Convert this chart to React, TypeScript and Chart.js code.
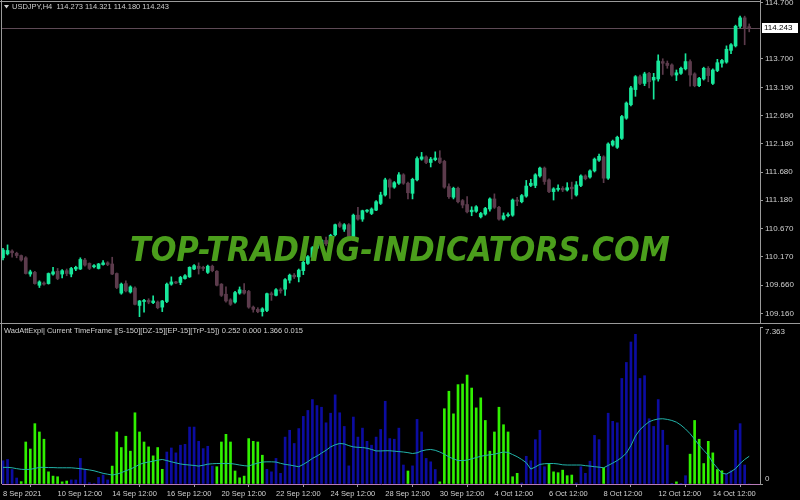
import React, { useEffect, useRef } from 'react';
import { Chart, registerables } from 'chart.js';

Chart.register(...registerables);

const SYMBOL = 'USDJPY,H4';
const HEADER_OHLC = ['114.273', '114.321', '114.180', '114.243'];
const INDICATOR_TITLE = 'WadAttExpl| Current TimeFrame |[S-150][DZ-15][EP-15][TrP-15])';
const INDICATOR_VALUES = ['0.252', '0.000', '1.366', '0.015'];
const WATERMARK = 'TOP-TRADING-INDICATORS.COM';
const LAST_PRICE = 114.243;

const priceTicks = [114.7, 113.7, 113.19, 112.69, 112.18, 111.68, 111.18, 110.67, 110.17, 109.66, 109.16];
const timeLabels = ['8 Sep 2021', '10 Sep 12:00', '14 Sep 12:00', '16 Sep 12:00', '20 Sep 12:00', '22 Sep 12:00', '24 Sep 12:00', '28 Sep 12:00', '30 Sep 12:00', '4 Oct 12:00', '6 Oct 12:00', '8 Oct 12:00', '12 Oct 12:00', '14 Oct 12:00'];
const timeLabelBars = [0, 12, 24, 36, 48, 60, 72, 84, 96, 108, 120, 132, 144, 156];
const indTicks = [0, 7.363];

const open = [
  110.15, 110.22, 110.27, 110.23, 110.19, 110.15, 109.86, 109.89, 109.66, 109.70,
  109.69, 109.86, 109.91, 109.86, 109.92, 109.86, 109.95, 109.95, 110.11, 110.05,
  109.99, 109.96, 110.03, 110.06, 110.04, 109.87, 109.52, 109.69, 109.54, 109.61,
  109.30, 109.37, 109.39, 109.35, 109.36, 109.27, 109.37, 109.68, 109.72, 109.71,
  109.78, 109.81, 109.95, 110.00, 109.98, 109.89, 110.00, 109.91, 109.68, 109.50,
  109.40, 109.36, 109.52, 109.57, 109.55, 109.27, 109.23, 109.19, 109.21, 109.51,
  109.48, 109.58, 109.59, 109.75, 109.84, 109.81, 109.92, 110.05, 110.16, 110.32,
  110.37, 110.46, 110.39, 110.56, 110.76, 110.66, 110.74, 110.53, 110.91, 110.84,
  110.98, 110.94, 111.00, 111.12, 111.27, 111.54, 111.41, 111.48, 111.63, 111.48,
  111.30, 111.54, 111.91, 111.95, 111.85, 111.90, 111.93, 111.87, 111.42, 111.23,
  111.39, 111.17, 111.10, 110.97, 110.98, 110.88, 110.93, 111.02, 111.20, 111.05,
  110.84, 110.90, 110.91, 111.18, 111.15, 111.25, 111.44, 111.44, 111.61, 111.75,
  111.54, 111.33, 111.37, 111.39, 111.36, 111.41, 111.27, 111.44, 111.61, 111.59,
  111.70, 111.89, 111.95, 111.57, 112.16, 112.12, 112.28, 112.64, 112.88, 113.15,
  113.38, 113.26, 113.44, 113.32, 113.34, 113.65, 113.62, 113.59, 113.41, 113.44,
  113.52, 113.65, 113.43, 113.22, 113.34, 113.53, 113.26, 113.49, 113.62, 113.64,
  113.85, 113.93, 114.28, 114.43, 114.273,
];
const high = [
  110.32, 110.38, 110.29, 110.25, 110.20, 110.17, 109.93, 109.91, 109.74, 109.72,
  109.88, 109.98, 109.96, 109.94, 109.95, 109.98, 110.00, 110.15, 110.14, 110.06,
  110.03, 110.05, 110.10, 110.08, 110.16, 109.88, 109.70, 109.74, 109.65, 109.63,
  109.39, 109.41, 109.42, 109.47, 109.38, 109.39, 109.70, 109.81, 109.73, 109.82,
  109.85, 109.99, 110.03, 110.06, 110.00, 110.02, 110.02, 109.92, 109.69, 109.63,
  109.42, 109.55, 109.63, 109.69, 109.57, 109.29, 109.26, 109.26, 109.52, 109.54,
  109.60, 109.61, 109.78, 109.86, 109.87, 109.95, 110.12, 110.19, 110.35, 110.40,
  110.48, 110.52, 110.57, 110.75, 110.79, 110.76, 110.76, 110.93, 111.05, 111.00,
  111.01, 111.04, 111.17, 111.32, 111.57, 111.56, 111.51, 111.67, 111.65, 111.50,
  111.57, 111.95, 112.03, 111.97, 111.94, 112.04, 112.06, 111.89, 111.47, 111.41,
  111.41, 111.19, 111.24, 111.06, 111.08, 110.96, 111.05, 111.22, 111.29, 111.07,
  110.95, 110.95, 111.20, 111.23, 111.28, 111.53, 111.55, 111.65, 111.77, 111.77,
  111.56, 111.40, 111.45, 111.42, 111.49, 111.50, 111.51, 111.63, 111.63, 111.72,
  111.93, 112.00, 111.97, 112.20, 112.25, 112.32, 112.69, 112.93, 113.21, 113.40,
  113.41, 113.46, 113.46, 113.44, 113.77, 113.70, 113.66, 113.61, 113.50, 113.55,
  113.79, 113.68, 113.45, 113.37, 113.55, 113.56, 113.52, 113.69, 113.69, 113.93,
  113.97, 114.30, 114.46, 114.46, 114.321,
];
const low = [
  110.11, 110.20, 110.16, 110.15, 110.09, 109.86, 109.82, 109.68, 109.62, 109.66,
  109.68, 109.84, 109.76, 109.79, 109.83, 109.81, 109.92, 109.94, 110.00, 109.94,
  109.97, 109.95, 110.02, 110.01, 109.85, 109.60, 109.50, 109.54, 109.52, 109.31,
  109.10, 109.18, 109.33, 109.33, 109.24, 109.19, 109.35, 109.66, 109.69, 109.67,
  109.77, 109.80, 109.94, 109.86, 109.92, 109.87, 109.90, 109.65, 109.46, 109.36,
  109.30, 109.34, 109.50, 109.50, 109.25, 109.18, 109.17, 109.11, 109.19, 109.39,
  109.47, 109.52, 109.48, 109.70, 109.78, 109.72, 109.85, 110.03, 110.14, 110.30,
  110.35, 110.37, 110.37, 110.54, 110.69, 110.62, 110.50, 110.51, 110.82, 110.80,
  110.96, 110.92, 110.99, 111.10, 111.25, 111.21, 111.39, 111.46, 111.46, 111.20,
  111.20, 111.52, 111.89, 111.83, 111.77, 111.88, 111.83, 111.39, 111.21, 111.20,
  111.13, 111.04, 110.95, 110.90, 110.96, 110.86, 110.91, 110.98, 111.03, 110.82,
  110.82, 110.88, 110.89, 111.08, 111.13, 111.23, 111.42, 111.40, 111.59, 111.46,
  111.31, 111.18, 111.34, 111.33, 111.34, 111.20, 111.25, 111.42, 111.54, 111.57,
  111.68, 111.87, 111.49, 111.55, 112.14, 112.10, 112.26, 112.62, 112.86, 113.03,
  113.24, 113.22, 113.18, 112.98, 113.30, 113.42, 113.53, 113.39, 113.31, 113.42,
  113.50, 113.21, 113.20, 113.20, 113.32, 113.29, 113.24, 113.47, 113.55, 113.62,
  113.79, 113.91, 114.25, 113.95, 114.180,
];
const close = [
  110.29, 110.28, 110.24, 110.19, 110.11, 109.87, 109.90, 109.69, 109.72, 109.68,
  109.87, 109.90, 109.78, 109.92, 109.87, 109.96, 109.98, 110.12, 110.02, 109.96,
  110.01, 110.04, 110.06, 110.03, 109.86, 109.62, 109.68, 109.56, 109.63, 109.32,
  109.38, 109.39, 109.36, 109.38, 109.26, 109.38, 109.68, 109.72, 109.70, 109.80,
  109.83, 109.98, 110.01, 109.96, 109.96, 110.00, 109.92, 109.66, 109.48, 109.38,
  109.32, 109.53, 109.58, 109.52, 109.27, 109.23, 109.19, 109.24, 109.51, 109.49,
  109.58, 109.56, 109.76, 109.84, 109.81, 109.93, 110.07, 110.17, 110.33, 110.38,
  110.46, 110.40, 110.55, 110.74, 110.71, 110.74, 110.53, 110.91, 110.84, 110.99,
  111.00, 111.02, 111.15, 111.27, 111.54, 111.41, 111.49, 111.63, 111.48, 111.31,
  111.55, 111.92, 111.95, 111.85, 111.91, 111.93, 111.85, 111.41, 111.24, 111.39,
  111.15, 111.09, 110.97, 111.00, 111.06, 110.94, 111.03, 111.20, 111.05, 110.84,
  110.90, 110.92, 111.18, 111.16, 111.26, 111.43, 111.48, 111.63, 111.75, 111.51,
  111.33, 111.38, 111.39, 111.36, 111.40, 111.38, 111.45, 111.61, 111.56, 111.70,
  111.91, 111.96, 111.57, 112.18, 112.23, 112.30, 112.67, 112.91, 113.18, 113.38,
  113.26, 113.43, 113.29, 113.37, 113.66, 113.62, 113.58, 113.41, 113.45, 113.53,
  113.65, 113.41, 113.22, 113.35, 113.53, 113.40, 113.50, 113.63, 113.67, 113.87,
  113.95, 114.28, 114.43, 114.25, 114.243,
];

const histValues = [
  1.09, 1.15, 0.68, 0.28, 0.11, 1.97, 1.64, 2.83, 2.44, 2.10,
  0.57, 0.37, 0.34, 0.10, 0.14, 0.19, 0.19, 1.20, 0.69, 0.06,
  0.02, 0.31, 0.42, 0.19, 0.84, 2.44, 1.71, 2.24, 1.54, 3.34,
  2.44, 1.97, 1.74, 1.32, 1.71, 0.69, 1.50, 1.69, 1.46, 1.82,
  1.86, 2.67, 2.67, 2.00, 1.66, 1.77, 0.84, 0.81, 1.97, 2.33,
  1.97, 0.61, 0.29, 0.37, 2.13, 2.00, 1.97, 1.35, 0.69, 0.57,
  1.20, 0.50, 2.20, 2.52, 1.90, 2.60, 3.17, 3.45, 3.96, 3.68,
  3.60, 2.87, 3.32, 4.18, 3.34, 2.70, 0.85, 3.14, 2.20, 2.62,
  2.00, 1.82, 2.20, 2.56, 3.88, 2.13, 2.10, 2.62, 0.89, 0.61,
  0.85, 3.03, 2.44, 1.20, 1.04, 0.68, 0.10, 3.53, 4.35, 3.29,
  4.66, 4.69, 5.11, 4.50, 3.57, 4.04, 2.98, 1.54, 2.44, 3.60,
  2.78, 2.44, 0.34, 0.50, 0.05, 1.30, 1.09, 2.08, 2.52, 0.81,
  0.92, 0.57, 0.53, 0.65, 0.39, 0.42, 0.05, 0.81, 0.50, 1.07,
  2.28, 2.08, 0.76, 3.32, 2.94, 2.87, 4.95, 5.70, 6.66, 7.02,
  4.95, 5.08, 3.06, 2.70, 3.96, 2.52, 1.82, 0.03, 0.10, 0.03,
  0.39, 1.40, 2.98, 2.10, 0.96, 2.00, 1.46, 0.68, 0.62, 0.45,
  0.62, 2.52, 2.83, 0.89, 0.00,
];
const histUp = [
  0, 0, 0, 0, 1, 1, 1, 1, 1, 1,
  1, 1, 1, 1, 1, 0, 0, 0, 0, 0,
  0, 0, 0, 0, 1, 1, 1, 1, 1, 1,
  1, 1, 1, 1, 1, 1, 0, 0, 0, 0,
  0, 0, 0, 0, 0, 0, 0, 1, 1, 1,
  1, 1, 1, 1, 1, 1, 1, 1, 0, 0,
  0, 0, 0, 0, 0, 0, 0, 0, 0, 0,
  0, 0, 0, 0, 0, 0, 0, 0, 0, 0,
  0, 0, 0, 0, 0, 0, 0, 0, 0, 1,
  0, 0, 0, 0, 0, 0, 1, 1, 1, 1,
  1, 1, 1, 1, 1, 1, 1, 1, 1, 1,
  1, 1, 1, 1, 0, 0, 0, 0, 0, 0,
  1, 1, 1, 1, 1, 1, 0, 0, 0, 0,
  0, 0, 1, 0, 0, 0, 0, 0, 0, 0,
  0, 0, 0, 0, 0, 0, 0, 0, 1, 0,
  0, 1, 1, 1, 1, 1, 1, 1, 1, 0,
  0, 0, 0, 0, 0,
];
const signalLine = [
  0.78, 0.78, 0.76, 0.72, 0.69, 0.68, 0.69, 0.73, 0.78, 0.78,
  0.77, 0.77, 0.76, 0.76, 0.76, 0.76, 0.74, 0.72, 0.69, 0.66,
  0.62, 0.56, 0.50, 0.46, 0.42, 0.46, 0.53, 0.62, 0.70, 0.80,
  0.92, 0.99, 1.03, 1.07, 1.12, 1.15, 1.10, 1.04, 0.99, 0.94,
  0.91, 0.89, 0.87, 0.84, 0.88, 0.93, 0.95, 0.96, 0.96, 0.96,
  0.96, 0.93, 0.89, 0.86, 0.84, 0.92, 0.98, 1.03, 1.04, 1.04,
  1.03, 0.97, 0.92, 0.89, 0.85, 0.81, 0.92, 1.05, 1.20, 1.31,
  1.45, 1.58, 1.74, 1.84, 1.90, 1.88, 1.80, 1.74, 1.72, 1.71,
  1.68, 1.62, 1.55, 1.55, 1.56, 1.56, 1.54, 1.52, 1.50, 1.47,
  1.43, 1.46, 1.55, 1.60, 1.62, 1.58, 1.50, 1.40, 1.27, 1.18,
  1.10, 1.10, 1.12, 1.18, 1.24, 1.30, 1.34, 1.37, 1.40, 1.45,
  1.50, 1.48, 1.38, 1.28, 1.15, 1.00, 0.70, 0.80, 0.92, 0.95,
  0.96, 0.96, 0.94, 0.90, 0.89, 0.89, 0.89, 0.89, 0.86, 0.84,
  0.81, 0.79, 0.76, 0.87, 0.98, 1.10, 1.25, 1.45, 1.80, 2.25,
  2.55, 2.75, 2.92, 3.00, 3.05, 3.06, 3.03, 2.98, 2.90, 2.76,
  2.58, 2.36, 2.10, 1.82, 1.58, 1.35, 1.00, 0.75, 0.50, 0.47,
  0.58, 0.72, 0.96, 1.15, 1.30,
];

// ---- styling ----
const BG = '#000000';
const BULL = '#18e89c';
const BEAR = '#5c3b4c';
const HIST_UP = '#30f000';
const HIST_DN = '#0c0ca0';
const SIGNAL = '#22b4aa';
const FRAME = '#9a9a9a';
const TEXT = '#d0d0d0';
const PRICE_LINE = '#5e4a55';
const WM_COLOR = '#4b9e1c';
const FONT = '"Liberation Sans", Arial, sans-serif';

const X_MIN = -0.22;
const X_MAX = 166.37;
const Y_MIN = 108.987;
const Y_MAX = 114.748;

const MAIN_H = 325;
const SUB_H = 175;

const mainDecor = {
  id: 'mainDecor',
  beforeDatasetsDraw(chart: any) {
    const { ctx, chartArea } = chart;
    const y = Math.round(chart.scales.y.getPixelForValue(LAST_PRICE)) + 0.5;
    ctx.save();
    ctx.strokeStyle = PRICE_LINE;
    ctx.lineWidth = 1;
    ctx.beginPath();
    ctx.moveTo(chartArea.left, y);
    ctx.lineTo(chartArea.right, y);
    ctx.stroke();
    ctx.restore();
  },
  afterDatasetsDraw(chart: any) {
    const { ctx } = chart;
    ctx.save();
    ctx.font = 'italic bold 34px "DejaVu Sans"';
    const w = ctx.measureText(WATERMARK).width;
    ctx.translate(130, 261);
    ctx.scale(540 / w, 1);
    ctx.fillStyle = WM_COLOR;
    ctx.textBaseline = 'alphabetic';
    ctx.fillText(WATERMARK, 0, 0);
    ctx.restore();
  },
  afterDraw(chart: any) {
    const { ctx, chartArea } = chart;
    ctx.save();
    ctx.strokeStyle = FRAME;
    ctx.lineWidth = 1;
    ctx.beginPath();
    ctx.moveTo(1.5, 0);
    ctx.lineTo(1.5, MAIN_H);
    ctx.moveTo(0, 1.5);
    ctx.lineTo(chartArea.right, 1.5);
    ctx.moveTo(0, 323.5);
    ctx.lineTo(800, 323.5);
    ctx.stroke();
    // header
    ctx.fillStyle = TEXT;
    ctx.beginPath();
    ctx.moveTo(4, 5);
    ctx.lineTo(9, 5);
    ctx.lineTo(6.5, 8.5);
    ctx.closePath();
    ctx.fill();
    ctx.font = '7.5px ' + FONT;
    ctx.textBaseline = 'middle';
    ctx.fillText(SYMBOL + '  ' + HEADER_OHLC.join(' '), 12, 7);
    // last price box
    const y = Math.round(chart.scales.y.getPixelForValue(LAST_PRICE));
    ctx.fillStyle = '#ffffff';
    ctx.fillRect(762, y - 5, 36, 10);
    ctx.fillStyle = '#000000';
    ctx.font = '8px ' + FONT;
    ctx.fillText(LAST_PRICE.toFixed(3), 764, y);
    ctx.restore();
  },
};

const subDecor = {
  id: 'subDecor',
  afterDraw(chart: any) {
    const { ctx } = chart;
    ctx.save();
    ctx.strokeStyle = FRAME;
    ctx.lineWidth = 1;
    ctx.beginPath();
    ctx.moveTo(1.5, 0);
    ctx.lineTo(1.5, chart.chartArea.bottom);
    ctx.stroke();
    ctx.font = '7.5px ' + FONT;
    ctx.textBaseline = 'middle';
    ctx.fillStyle = TEXT;
    ctx.fillText(INDICATOR_TITLE + ' ' + INDICATOR_VALUES.join(' '), 4, 6);
    ctx.restore();
  },
};

export default function App() {
  const mainRef = useRef<HTMLCanvasElement>(null);
  const subRef = useRef<HTMLCanvasElement>(null);

  useEffect(() => {
    const idx = open.map((_, i) => i);
    const colors = idx.map((i) => (close[i] >= open[i] ? BULL : BEAR));

    const main = new Chart(mainRef.current as HTMLCanvasElement, {
      type: 'bar',
      data: {
        datasets: [
          {
            label: 'wicks',
            data: idx.map((i) => ({ x: i, y: [low[i], high[i]] })) as any,
            backgroundColor: colors,
            barThickness: 1,
            grouped: false,
            order: 2,
          } as any,
          {
            label: 'bodies',
            data: idx.map((i) => ({ x: i, y: [open[i], close[i]] })) as any,
            backgroundColor: colors,
            barThickness: 3,
            minBarLength: 1,
            grouped: false,
            order: 1,
          } as any,
        ],
      },
      options: {
        animation: false,
        responsive: false,
        maintainAspectRatio: false,
        layout: { padding: { left: 2, top: 0, bottom: 2, right: 0 } },
        plugins: { legend: { display: false }, tooltip: { enabled: false } },
        scales: {
          x: { type: 'linear', min: X_MIN, max: X_MAX, display: false, offset: false },
          y: {
            type: 'linear',
            position: 'right',
            min: Y_MIN,
            max: Y_MAX,
            afterBuildTicks: (s: any) => {
              s.ticks = priceTicks.map((v) => ({ value: v }));
            },
            afterFit: (s: any) => {
              s.width = 40;
              s.paddingTop = 0;
              s.paddingBottom = 0;
            },
            ticks: {
              color: TEXT,
              font: { family: FONT, size: 8 },
              padding: 2,
              callback: (v: any) => Number(v).toFixed(3),
            },
            grid: { drawOnChartArea: false, color: FRAME, tickLength: 3 },
            border: { color: FRAME },
          },
        },
      } as any,
      plugins: [mainDecor],
    });

    const upData = idx.filter((i) => histUp[i] === 1).map((i) => ({ x: i, y: histValues[i] }));
    const dnData = idx.filter((i) => histUp[i] === 0).map((i) => ({ x: i, y: histValues[i] }));

    const sub = new Chart(subRef.current as HTMLCanvasElement, {
      type: 'bar',
      data: {
        datasets: [
          { type: 'bar', data: upData as any, backgroundColor: HIST_UP, barThickness: 2, grouped: false, order: 2 } as any,
          { type: 'bar', data: dnData as any, backgroundColor: HIST_DN, barThickness: 2, grouped: false, order: 2 } as any,
          {
            type: 'line',
            data: idx.map((i) => ({ x: i, y: signalLine[i] })) as any,
            borderColor: SIGNAL,
            borderWidth: 1,
            pointRadius: 0,
            tension: 0,
            order: 1,
          } as any,
        ],
      },
      options: {
        animation: false,
        responsive: false,
        maintainAspectRatio: false,
        layout: { padding: { left: 2, top: 2, bottom: 0, right: 0 } },
        plugins: { legend: { display: false }, tooltip: { enabled: false } },
        scales: {
          x: {
            type: 'linear',
            min: X_MIN,
            max: X_MAX,
            offset: false,
            afterBuildTicks: (s: any) => {
              s.ticks = timeLabelBars.map((v) => ({ value: v }));
            },
            afterFit: (s: any) => {
              s.height = 16;
              s.paddingLeft = 0;
              s.paddingRight = 0;
            },
            ticks: {
              color: TEXT,
              font: { family: FONT, size: 7.5 },
              align: 'start',
              maxRotation: 0,
              autoSkip: false,
              padding: 2,
              callback: (v: any) => timeLabels[timeLabelBars.indexOf(Number(v))] ?? '',
            },
            grid: { drawOnChartArea: false, color: FRAME, tickLength: 3 },
            border: { color: '#b87ab8' },
          },
          y: {
            type: 'linear',
            position: 'right',
            min: 0,
            max: indTicks[1],
            afterBuildTicks: (s: any) => {
              s.ticks = indTicks.map((v) => ({ value: v }));
            },
            afterFit: (s: any) => {
              s.width = 40;
              s.paddingTop = 0;
              s.paddingBottom = 0;
            },
            ticks: {
              color: TEXT,
              font: { family: FONT, size: 8 },
              padding: 2,
              callback: (v: any) => (Number(v) === 0 ? ['0', ''] : ['', Number(v).toFixed(3)]),
            },
            grid: { drawOnChartArea: false, color: FRAME, tickLength: 3 },
            border: { color: FRAME },
          },
        },
      } as any,
      plugins: [subDecor],
    });

    return () => {
      main.destroy();
      sub.destroy();
    };
  }, []);

  return (
    <div style={{ position: 'fixed', left: 0, top: 0, width: 800, height: 500, background: BG, overflow: 'hidden' }}>
      <canvas ref={mainRef} width={800} height={MAIN_H} style={{ position: 'absolute', left: 0, top: 0, width: 800, height: MAIN_H }} />
      <canvas ref={subRef} width={800} height={SUB_H} style={{ position: 'absolute', left: 0, top: MAIN_H, width: 800, height: SUB_H }} />
    </div>
  );
}
